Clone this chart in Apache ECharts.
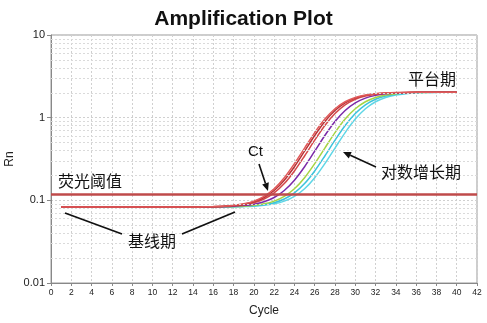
<!DOCTYPE html>
<html><head><meta charset="utf-8">
<script src="https://cdn.jsdelivr.net/npm/echarts@6/dist/echarts.min.js"></script>
<style>html,body{margin:0;padding:0;background:#fff}#c{width:487px;height:323px}</style>
</head><body><div id="c"></div>
<script>
// ---- data ----
const cycles = [1,2,3,4,5,6,7,8,9,10,11,12,13,14,15,16,17,18,19,20,21,22,23,24,25,26,27,28,29,30,31,32,33,34,35,36,37,38,39,40];
const red1   = [0.083,0.083,0.083,0.083,0.083,0.083,0.083,0.083,0.083,0.083,0.083,0.083,0.083,0.083,0.0835,0.0840,0.0850,0.0870,0.0907,0.0979,0.1118,0.138,0.188,0.278,0.429,0.660,0.961,1.282,1.558,1.757,1.880,1.952,1.990,2.011,2.021,2.027,2.030,2.031,2.032,2.032];
const red2   = [0.083,0.083,0.083,0.083,0.083,0.083,0.083,0.083,0.083,0.083,0.083,0.083,0.083,0.083,0.0835,0.0839,0.0848,0.0865,0.0897,0.0961,0.1083,0.1316,0.1755,0.255,0.393,0.608,0.897,1.219,1.509,1.723,1.861,1.941,1.984,2.008,2.020,2.026,2.030,2.031,2.032,2.032];
const red3   = [0.083,0.083,0.083,0.083,0.083,0.083,0.083,0.083,0.083,0.083,0.083,0.083,0.083,0.083,0.0834,0.0837,0.0845,0.0858,0.0885,0.0937,0.1037,0.1230,0.1594,0.2264,0.344,0.534,0.804,1.123,1.428,1.668,1.826,1.921,1.974,2.002,2.017,2.025,2.029,2.031,2.032,2.032];
const purple = [0.083,0.083,0.083,0.083,0.083,0.083,0.083,0.083,0.083,0.083,0.083,0.083,0.083,0.083,0.083,0.0835,0.0839,0.0848,0.0865,0.0897,0.0961,0.1083,0.1316,0.1755,0.255,0.393,0.608,0.897,1.219,1.509,1.723,1.861,1.941,1.984,2.008,2.020,2.026,2.030,2.031,2.032];
const green  = [0.083,0.083,0.083,0.083,0.083,0.083,0.083,0.083,0.083,0.083,0.083,0.083,0.083,0.083,0.083,0.083,0.0835,0.0840,0.0850,0.0870,0.0907,0.0979,0.1118,0.138,0.188,0.278,0.429,0.660,0.961,1.282,1.558,1.757,1.880,1.952,1.990,2.011,2.021,2.027,2.030,2.031];
const cyan1  = [0.083,0.083,0.083,0.083,0.083,0.083,0.083,0.083,0.083,0.083,0.083,0.083,0.083,0.083,0.083,0.083,0.0834,0.0837,0.0845,0.0858,0.0885,0.0937,0.1037,0.1230,0.1594,0.2264,0.344,0.534,0.804,1.123,1.428,1.668,1.826,1.921,1.974,2.002,2.017,2.025,2.029,2.031];
const cyan2  = [0.083,0.083,0.083,0.083,0.083,0.083,0.083,0.083,0.083,0.083,0.083,0.083,0.083,0.083,0.083,0.083,0.083,0.0835,0.0840,0.0850,0.0870,0.0907,0.0979,0.1118,0.138,0.188,0.278,0.429,0.660,0.961,1.282,1.558,1.757,1.880,1.952,1.990,2.011,2.021,2.027,2.030];
const threshold = 0.115;
const minorGridValues = [0.02,0.03,0.04,0.05,0.06,0.07,0.08,0.09,0.2,0.3,0.4,0.5,0.6,0.7,0.8,0.9,2,3,4,5,6,7,8,9];
const xTickLabels = ['0','2','4','6','8','10','12','14','16','18','20','22','24','26','28','30','32','34','36','38','40','42'];
const titleText = 'Amplification Plot';
const labels = {plateau:'平台期', ct:'Ct', log:'对数增长期', thr:'荧光阈值', base:'基线期'};

// ---- chart ----
const FONT = '"Liberation Sans", Arial, "Noto Sans CJK SC", sans-serif';
const CJK = '"Noto Sans CJK SC", "Liberation Sans", sans-serif';
const pairs = arr => cycles.map((c,i)=>[c, arr[i]]);
const seriesDefs = [
  {name:'cyan2', data:cyan2, color:'#5fd6e6'},
  {name:'cyan1', data:cyan1, color:'#3cc3dc'},
  {name:'green', data:green, color:'#a6d444'},
  {name:'purple', data:purple, color:'#7b2aa8'},
  {name:'red3', data:red3, color:'#d4484a'},
  {name:'red2', data:red2, color:'#b83236'},
  {name:'red1', data:red1, color:'#e05a5a'}
];
const series = seriesDefs.map(s => ({
  type:'line', name:s.name, data:pairs(s.data), showSymbol:false, smooth:0.3,
  lineStyle:{color:s.color, width:1.5}, itemStyle:{color:s.color}, z:3, silent:true
}));
// minor log grid lines
series.push({
  type:'line', data:[], silent:true, z:1,
  markLine:{silent:true, symbol:['none','none'], label:{show:false},
    lineStyle:{color:'#dadada', type:[2,2], width:1},
    data: minorGridValues.map(v=>({yAxis:v}))}
});
// threshold
series.push({
  type:'line', data:[], silent:true, z:5,
  markLine:{silent:true, symbol:['none','none'], label:{show:false}, z:5,
    lineStyle:{color:'#bf4a4a', type:'solid', width:2.5},
    data:[{yAxis:threshold}]}
});

const chart = echarts.init(document.getElementById('c'), null, {renderer:'canvas'});
chart.setOption({
  animation:false,
  backgroundColor:'#fff',
  title:{text:titleText, left:'center', top:4, textStyle:{fontFamily:FONT, fontSize:21, fontWeight:'bold', color:'#111'}},
  grid:{left:51, right:10, top:35, bottom:40, outerBoundsMode:'none', containLabel:false, show:true, borderColor:'#9a9a9a', borderWidth:1, backgroundColor:'#fff'},
  xAxis:{type:'value', min:0, max:42, interval:2, name:'Cycle', nameLocation:'middle', nameGap:22, nameMoveOverlap:false,
    nameTextStyle:{fontFamily:FONT, fontSize:12, color:'#222'},
    axisLine:{lineStyle:{color:'#888'}}, axisTick:{length:3, lineStyle:{color:'#888'}},
    axisLabel:{fontFamily:FONT, fontSize:8.5, color:'#222', margin:5, formatter:(v)=>xTickLabels[Math.round(v/2)]},
    splitLine:{show:true, lineStyle:{color:'#d0d0d0', type:[2,2]}}},
  yAxis:{type:'log', min:0.01, max:10, logBase:10, name:'Rn', nameLocation:'middle', nameGap:35, nameMoveOverlap:false,
    nameTextStyle:{fontFamily:FONT, fontSize:12, color:'#222'},
    axisLine:{show:true, lineStyle:{color:'#888'}}, axisTick:{show:true, length:4, lineStyle:{color:'#888'}},
    axisLabel:{fontFamily:FONT, fontSize:11, color:'#222', margin:6},
    splitLine:{show:true, lineStyle:{color:'#d0d0d0', type:[2,2]}}},
  series:series,
  graphic:[
    {type:'text', left:408, top:71, style:{text:labels.plateau, font:'16px '+CJK, fill:'#111'}, z:10},
    {type:'text', left:248, top:144, style:{text:labels.ct, font:'15px '+FONT, fill:'#111'}, z:10},
    {type:'text', left:381, top:164, style:{text:labels.log, font:'16px '+CJK, fill:'#111'}, z:10},
    {type:'text', left:58, top:173, style:{text:labels.thr, font:'16px '+CJK, fill:'#111'}, z:10},
    {type:'text', left:128, top:233, style:{text:labels.base, font:'16px '+CJK, fill:'#111'}, z:10},
    {type:'line', shape:{x1:259,y1:164,x2:265.5,y2:183.4}, style:{stroke:'#111', lineWidth:1.6}, z:10},
    {type:'polygon', shape:{points:[[268,191],[262.2,184.5],[268.8,182.3]]}, style:{fill:'#111'}, z:10},
    {type:'line', shape:{x1:376,y1:167,x2:350.3,y2:155.3}, style:{stroke:'#111', lineWidth:1.6}, z:10},
    {type:'polygon', shape:{points:[[343,152],[351.7,152.1],[348.8,158.5]]}, style:{fill:'#111'}, z:10},
    {type:'line', shape:{x1:65,y1:213,x2:122,y2:234}, style:{stroke:'#111', lineWidth:1.8}, z:10},
    {type:'line', shape:{x1:182,y1:234,x2:235,y2:212}, style:{stroke:'#111', lineWidth:1.8}, z:10}
  ]
});
</script></body></html>
